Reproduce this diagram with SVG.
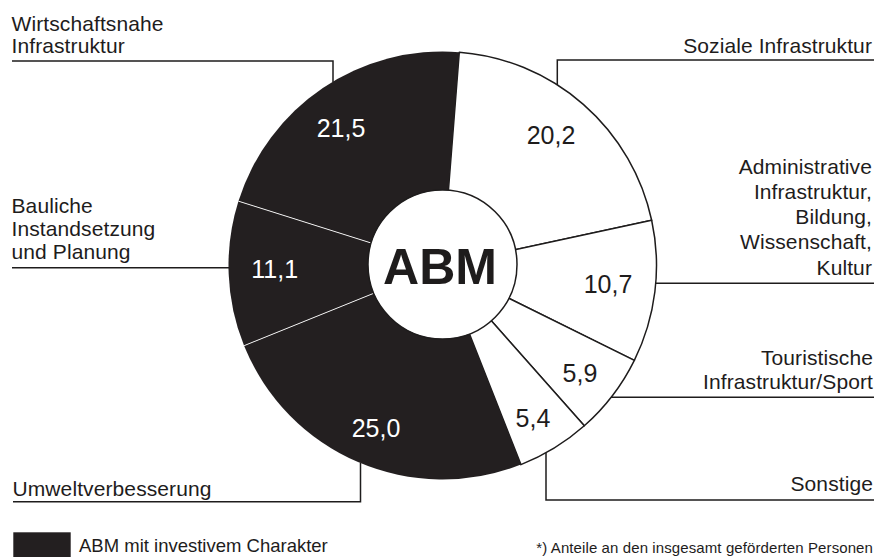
<svg xmlns="http://www.w3.org/2000/svg" width="877" height="557" viewBox="0 0 877 557">
  <style>
    text { font-family: "Liberation Sans", Arial, Helvetica, sans-serif; fill: #1e1c1c; }
    .lbl { font-size: 21px; letter-spacing: 0.1px; }
    .r { text-anchor: end; }
    .val { font-size: 25px; text-anchor: middle; }
    .inv { fill: #ffffff; }
    .wseg { fill: #ffffff; stroke: #1e1c1c; stroke-width: 1.5; stroke-linejoin: round; }
    .bseg { fill: #231f20; stroke: none; }
    .sep { stroke: #ffffff; stroke-width: 0.9; }
    .lead { fill: none; stroke: #1e1c1c; stroke-width: 1.5; }
  </style>

  <rect x="0" y="0" width="877" height="557" fill="#ffffff"/>

  <!-- ring sectors: centre (442.5,265.5), r = 214 -->
  <g id="sector-soziale">
    <path class="wseg" d="M442.5 265.5 L459.29 52.16 A214 214 0 0 1 651.67 220.28 Z"/>
  </g>
  <g id="sector-administrative">
    <path class="wseg" d="M442.5 265.5 L651.67 220.28 A214 214 0 0 1 634.35 360.32 Z"/>
  </g>
  <g id="sector-touristische">
    <path class="wseg" d="M442.5 265.5 L634.35 360.32 A214 214 0 0 1 584.30 425.78 Z"/>
  </g>
  <g id="sector-sonstige">
    <path class="wseg" d="M442.5 265.5 L584.30 425.78 A214 214 0 0 1 520.93 464.61 Z"/>
  </g>
  <g id="sector-umwelt">
    <path class="bseg" d="M442.5 265.5 L520.93 464.61 A214 214 0 0 1 244.08 345.67 Z"/>
  </g>
  <g id="sector-bauliche">
    <path class="bseg" d="M442.5 265.5 L244.08 345.67 A214 214 0 0 1 238.40 201.15 Z"/>
  </g>
  <g id="sector-wirtschaftsnahe">
    <path class="bseg" d="M442.5 265.5 L238.40 201.15 A214 214 0 0 1 459.29 52.16 Z"/>
  </g>

  <!-- thin white dividers inside the dark part -->
  <g id="dividers">
    <line class="sep" x1="442.5" y1="265.5" x2="244.08" y2="345.67"/>
    <line class="sep" x1="442.5" y1="265.5" x2="238.40" y2="201.15"/>
  </g>

  <!-- hub -->
  <g id="hub">
    <circle cx="442.5" cy="264.5" r="74.5" fill="#ffffff" stroke="#1e1c1c" stroke-width="1.5"/>
    <text x="440" y="284" text-anchor="middle" font-size="50" font-weight="bold">ABM</text>
  </g>

  <!-- sector values -->
  <g id="values">
    <text class="val" x="551" y="144.3">20,2</text>
    <text class="val" x="608" y="293.3">10,7</text>
    <text class="val" x="580" y="381.7">5,9</text>
    <text class="val" x="533" y="426.7">5,4</text>
    <text class="val inv" x="376" y="437.3">25,0</text>
    <text class="val inv" x="274.7" y="278.3">11,1</text>
    <text class="val inv" x="341" y="136.7">21,5</text>
  </g>

  <!-- leader lines -->
  <g id="connectors">
    <polyline class="lead" points="12,61 333,61 333,82"/>
    <polyline class="lead" points="12,267.7 229,267.7"/>
    <polyline class="lead" points="13,501.7 360.5,501.7 360.5,463"/>
    <polyline class="lead" points="874,60 557.3,60 557.3,85"/>
    <polyline class="lead" points="874,283.3 655.5,283.3"/>
    <polyline class="lead" points="874,397.3 611,397.3"/>
    <polyline class="lead" points="874,500 546,500 546,453"/>
  </g>

  <!-- category labels -->
  <g id="label-wirtschaftsnahe">
    <text class="lbl" x="11.5" y="30.5">Wirtschaftsnahe</text>
    <text class="lbl" x="11.5" y="53.3">Infrastruktur</text>
  </g>
  <g id="label-bauliche">
    <text class="lbl" x="11.5" y="213.3">Bauliche</text>
    <text class="lbl" x="11.5" y="236">Instandsetzung</text>
    <text class="lbl" x="11.5" y="258.7">und Planung</text>
  </g>
  <g id="label-umwelt">
    <text class="lbl" x="12.5" y="496">Umweltverbesserung</text>
  </g>
  <g id="label-soziale">
    <text class="lbl r" x="872" y="53.3">Soziale Infrastruktur</text>
  </g>
  <g id="label-administrative">
    <text class="lbl r" x="872" y="174">Administrative</text>
    <text class="lbl r" x="872" y="199">Infrastruktur,</text>
    <text class="lbl r" x="872" y="224">Bildung,</text>
    <text class="lbl r" x="872" y="249.3">Wissenschaft,</text>
    <text class="lbl r" x="872" y="275">Kultur</text>
  </g>
  <g id="label-touristische">
    <text class="lbl r" x="873" y="365">Touristische</text>
    <text class="lbl r" x="873" y="389.3">Infrastruktur/Sport</text>
  </g>
  <g id="label-sonstige">
    <text class="lbl r" x="873" y="490.7">Sonstige</text>
  </g>

  <!-- legend and note -->
  <g id="legend">
    <rect x="13.3" y="532.3" width="57.4" height="24.7" fill="#231f20"/>
    <text x="79" y="551.7" font-size="18.5">ABM mit investivem Charakter</text>
  </g>
  <g id="footnote">
    <text x="873" y="552.7" font-size="15" letter-spacing="0.1" text-anchor="end">*) Anteile an den insgesamt geförderten Personen</text>
  </g>
</svg>
